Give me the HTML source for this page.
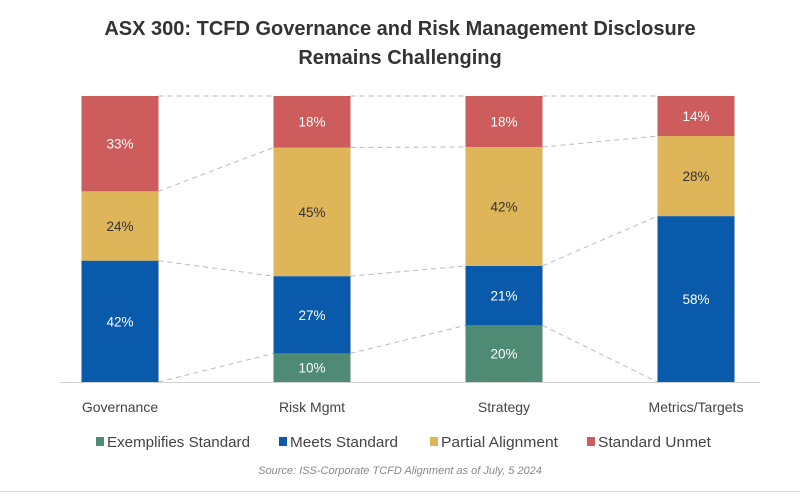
<!DOCTYPE html>
<html><head><meta charset="utf-8"><style>
body{margin:0;background:#fff;width:800px;height:493px;overflow:hidden;font-family:"Liberation Sans",sans-serif}
svg text{font-family:"Liberation Sans",sans-serif}
</style></head><body>
<svg id="chart" width="800" height="493" viewBox="0 0 800 493">
<text x="400" y="35" text-anchor="middle" font-size="20" font-weight="bold" fill="#333">ASX 300: TCFD Governance and Risk Management Disclosure</text>
<text x="400" y="64" text-anchor="middle" font-size="20" font-weight="bold" fill="#333">Remains Challenging</text>
<g id="conn"></g><g id="bars"></g>
<line x1="60" y1="382.5" x2="760" y2="382.5" stroke="#d0d0d0" stroke-width="1"/>
<g id="xlabels"></g><g id="legend"></g>
<text x="400" y="474" text-anchor="middle" font-size="11" font-style="italic" fill="#888">Source: ISS-Corporate TCFD Alignment as of July, 5 2024</text>
<line x1="0" y1="491.5" x2="800" y2="491.5" stroke="#ddd"/>
</svg>
<script>
const categories=["Governance","Risk Mgmt","Strategy","Metrics/Targets"];
const seriesNames=["Exemplifies Standard","Meets Standard","Partial Alignment","Standard Unmet"];
const exemplifies=[0,10,20,0];
const meets=[42,27,21,58];
const partial=[24,45,42,28];
const unmet=[33,18,18,14];
const colors=["#4f8a74","#0a5aab","#dfb55a","#cd5c5c"];
const textColors=["#fff","#fff","#333","#fff"];
const series=[exemplifies,meets,partial,unmet];
const NS="http://www.w3.org/2000/svg";
const base=382,top0=96,bw=77;
function xC(i){return 120+i*192;}
function yS(p){return base-(base-top0)*p/100;}
function mk(t,a,p){const e=document.createElementNS(NS,t);for(const k in a)e.setAttribute(k,a[k]);p.appendChild(e);return e;}
const bars=document.getElementById('bars'),conn=document.getElementById('conn');
const bounds=[];
categories.forEach((c,i)=>{
 let tot=0;series.forEach(s=>tot+=s[i]);
 let cum=0;const b=[base];
 series.forEach((s,k)=>{
  const v=s[i];const y0=yS(cum/tot*100);cum+=v;const y1=yS(cum/tot*100);b.push(y1);
  if(v<=0)return;
  const r=mk('rect',{x:xC(i)-bw/2,y:y1,width:bw,height:y0-y1,fill:colors[k]},bars);
  
  
  const t=mk('text',{x:xC(i),y:(y0+y1)/2+5,'text-anchor':'middle','font-size':13.5,fill:textColors[k]},bars);
  t.textContent=v+'%';
  
  
 });
 bounds.push(b);
 const xl=mk('text',{x:xC(i),y:412,'text-anchor':'middle','font-size':14,fill:'#444'},document.getElementById('xlabels'));
 xl.textContent=c;
 
 
});
for(let i=0;i<categories.length-1;i++){
 for(let k=1;k<bounds[i].length;k++){
  const l=mk('line',{x1:xC(i)+bw/2,y1:bounds[i][k],x2:xC(i+1)-bw/2,y2:bounds[i+1][k],stroke:'#bbb','stroke-dasharray':'5,4','stroke-width':1},conn);
  
  
 }
}
const lg=document.getElementById('legend');
const lx=[96,279,430,587];
const lw=[143,108,117,113];
seriesNames.forEach((n,k)=>{
 const g=mk('g',{},lg);
 
 
 mk('rect',{x:lx[k],y:437,width:8,height:9,fill:colors[k]},g);
 const t=mk('text',{x:lx[k]+11,y:447,'font-size':14.5,fill:'#444',textLength:lw[k],lengthAdjust:'spacingAndGlyphs'},g);t.textContent=n;
});
</script>
</body></html>
